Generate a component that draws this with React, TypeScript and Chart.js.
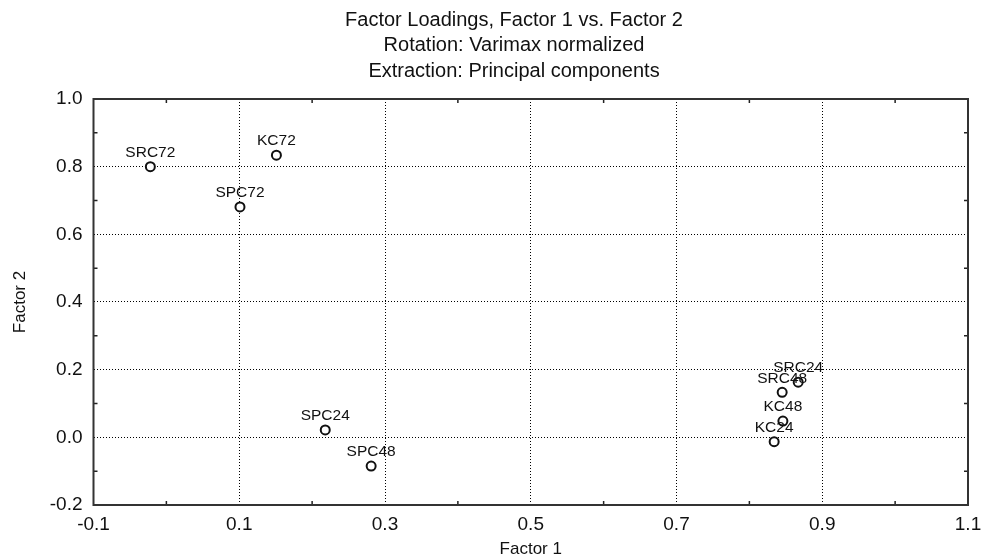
import React, { useEffect, useRef } from "react";
import { Chart, registerables } from "chart.js";

Chart.register(...registerables);

const titleLines = [
  "Factor Loadings, Factor 1 vs. Factor 2",
  "Rotation: Varimax normalized",
  "Extraction: Principal components",
];
const xAxisTitle = "Factor 1";
const yAxisTitle = "Factor 2";

const xMajorTicks = [-0.1, 0.1, 0.3, 0.5, 0.7, 0.9, 1.1];
const xMinorTicks = [0.0, 0.2, 0.4, 0.6, 0.8, 1.0];
const yMajorTicks = [-0.2, 0.0, 0.2, 0.4, 0.6, 0.8, 1.0];
const yMinorTicks = [-0.1, 0.1, 0.3, 0.5, 0.7, 0.9];

const variables = ["SRC72", "KC72", "SPC72", "SPC24", "SPC48", "SRC24", "SRC48", "KC48", "KC24"];
const factor1 = [-0.022, 0.151, 0.101, 0.218, 0.281, 0.867, 0.845, 0.846, 0.834];
const factor2 = [0.8, 0.834, 0.681, 0.022, -0.085, 0.163, 0.133, 0.048, -0.013];

const FONT = "'Liberation Sans', Arial, sans-serif";

const decorPlugin = {
  id: "decor",
  beforeDatasetsDraw(chart: any) {
    const { ctx, chartArea } = chart;
    const xs = chart.scales.x;
    const ys = chart.scales.y;
    ctx.save();
    ctx.strokeStyle = "#222";
    ctx.lineWidth = 1.5;
    const len = 4;
    ctx.beginPath();
    xMinorTicks.forEach((v) => {
      const px = xs.getPixelForValue(v);
      ctx.moveTo(px, chartArea.bottom);
      ctx.lineTo(px, chartArea.bottom - len);
      ctx.moveTo(px, chartArea.top);
      ctx.lineTo(px, chartArea.top + len);
    });
    yMinorTicks.forEach((v) => {
      const py = ys.getPixelForValue(v);
      ctx.moveTo(chartArea.left, py);
      ctx.lineTo(chartArea.left + len, py);
      ctx.moveTo(chartArea.right, py);
      ctx.lineTo(chartArea.right - len, py);
    });
    ctx.stroke();
    ctx.strokeStyle = "#333";
    ctx.lineWidth = 2;
    ctx.strokeRect(chartArea.left, chartArea.top, chartArea.right - chartArea.left, chartArea.bottom - chartArea.top);
    ctx.restore();
  },
  afterDatasetsDraw(chart: any) {
    const { ctx } = chart;
    const meta = chart.getDatasetMeta(0);
    ctx.save();
    ctx.fillStyle = "#111";
    ctx.font = `15.5px ${FONT}`;
    ctx.textAlign = "center";
    ctx.textBaseline = "middle";
    meta.data.forEach((el: any, i: number) => {
      ctx.fillText(variables[i], el.x, el.y - 14);
    });
    ctx.font = `20px ${FONT}`;
    const cx = 514;
    const ys = [20, 45.5, 71];
    titleLines.forEach((t, i) => ctx.fillText(t, cx, ys[i]));
    ctx.restore();
  },
};

export default function App() {
  const ref = useRef<HTMLCanvasElement>(null);
  useEffect(() => {
    if (!ref.current) return;
    const chart = new Chart(ref.current, {
      type: "scatter",
      data: {
        datasets: [
          {
            data: factor1.map((x, i) => ({ x, y: factor2[i] })),
            pointRadius: 4.5,
            pointBorderWidth: 2,
            pointBorderColor: "#111",
            pointBackgroundColor: "#fff",
          },
        ],
      },
      options: {
        animation: false,
        responsive: false,
        layout: { padding: { top: 99, right: 0, left: 0, bottom: 0 } },
        plugins: { legend: { display: false }, tooltip: { enabled: false }, title: { display: false } },
        scales: {
          x: {
            type: "linear",
            min: -0.1,
            max: 1.1,
            afterBuildTicks: (s: any) => {
              s.ticks = xMajorTicks.map((v) => ({ value: v }));
            },
            afterFit: (s: any) => {
              s.height = 55;
              s.paddingRight = 14;
              s.paddingLeft = 0;
            },
            ticks: {
              color: "#111",
              font: { family: FONT, size: 19 },
              padding: 8,
              maxRotation: 0,
              autoSkip: false,
              callback: (v: any) => Number(v).toFixed(1),
            },
            grid: { color: "#000", lineWidth: 1, drawTicks: false },
            border: { display: false, dash: [1, 2] },
            title: {
              display: true,
              text: xAxisTitle,
              color: "#111",
              font: { family: FONT, size: 17 },
              padding: { top: -2, bottom: 0 },
            },
          },
          y: {
            type: "linear",
            min: -0.2,
            max: 1.0,
            afterBuildTicks: (s: any) => {
              s.ticks = yMajorTicks.map((v) => ({ value: v }));
            },
            afterFit: (s: any) => {
              s.width = 93.5;
            },
            ticks: {
              color: "#111",
              font: { family: FONT, size: 19 },
              padding: 11,
              autoSkip: false,
              callback: (v: any) => Number(v).toFixed(1),
            },
            grid: { color: "#000", lineWidth: 1, drawTicks: false },
            border: { display: false, dash: [1, 2] },
            title: {
              display: true,
              text: yAxisTitle,
              color: "#111",
              font: { family: FONT, size: 17 },
              padding: { top: 10, bottom: 0 },
            },
          },
        },
      },
      plugins: [decorPlugin],
    } as any);
    return () => chart.destroy();
  }, []);
  return (
    <div style={{ position: "absolute", left: 0, top: 0, width: 982, height: 560, background: "#fff" }}>
      <canvas ref={ref} width={982} height={560} style={{ display: "block" }} />
    </div>
  );
}
